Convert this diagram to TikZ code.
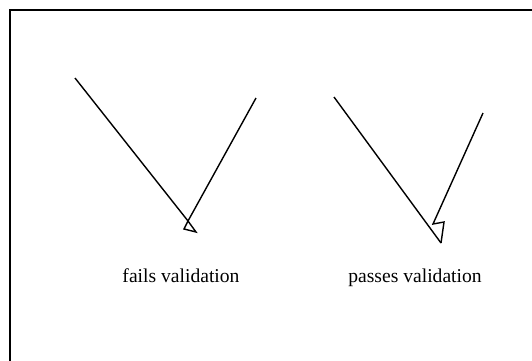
\documentclass[tikz,border=0pt]{standalone}
\usepackage{fontspec}
\setmainfont{Liberation Serif}
\usetikzlibrary{positioning}

\begin{document}
\begin{tikzpicture}[x=1pt,y=-1pt,line width=1.4pt,line join=miter]
  \tikzset{label/.style={font=\fontsize{19.6}{23}\selectfont,inner sep=0pt,anchor=base}}
  \useasboundingbox (0,0) rectangle (532,360);
  \clip (0,0) rectangle (532,360);
  \draw[line width=2pt] (10,10) rectangle (600,420);
  % fails validation
  \coordinate (failtopl) at (75,78);
  \coordinate (failtopr) at (256,98);
  \coordinate (failtip) at (188,221);
  \draw (failtopl)--(failtip);
  \draw (failtopr)--(failtip);
  \draw (failtip)--(184,229)--(196,232)--cycle;
  \node[label](fail) at (181,282) {fails validation};
  % passes validation
  \coordinate (passtopl) at (334,97);
  \coordinate (passtopr) at (483,113);
  \coordinate (passtip) at (441,243);
  \draw (passtopl)--(passtip);
  \draw (passtopr)--(433,224)--(444,222)--(passtip);
  \node[label](pass) at (415,282) {passes validation};
\end{tikzpicture}
\end{document}
